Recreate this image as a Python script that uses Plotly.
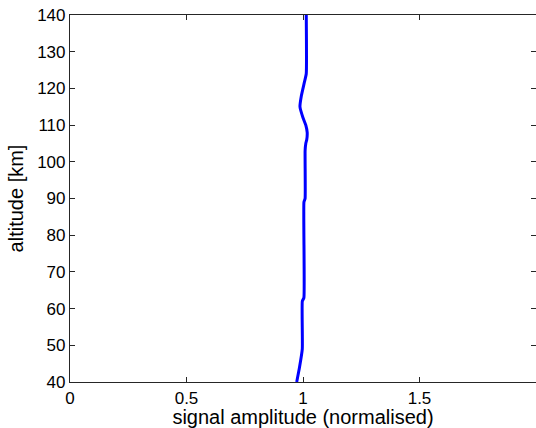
import plotly.graph_objects as go

altitude = [40, 44, 49, 62, 63, 89, 90, 103, 105, 106, 108, 110, 112, 115, 118, 121.7, 124, 140]
amplitude = [0.973, 0.985, 0.997, 0.997, 1.004, 1.004, 1.009, 1.009, 1.012, 1.016, 1.018, 1.012, 1.0, 0.987, 0.993, 1.006, 1.014, 1.014]

x_ticks = [0, 0.5, 1, 1.5, 2]
x_tick_text = ["0", "0.5", "1", "1.5", "2"]
y_ticks = [40, 50, 60, 70, 80, 90, 100, 110, 120, 130, 140]

fig = go.Figure()
fig.add_trace(go.Scatter(x=amplitude, y=altitude, mode="lines",
                         line=dict(color="#0000FF", width=3, shape="spline", smoothing=0.4),
                         showlegend=False))

axis_common = dict(showline=True, linecolor="#262626", linewidth=1.2, mirror="allticks",
                   ticks="inside", ticklen=5, tickcolor="#262626", showgrid=False,
                   zeroline=False, automargin=False,
                   tickfont=dict(family="Liberation Sans, Arial", size=17, color="#000"))

fig.update_layout(
    width=536, height=428,
    margin=dict(l=70, r=0, t=15, b=46),
    plot_bgcolor="white", paper_bgcolor="white",
    font=dict(family="Liberation Sans, Arial", size=20, color="#000"),
    xaxis=dict(range=[0, 2], tickvals=x_ticks, ticktext=x_tick_text,
               title=dict(text="signal amplitude (normalised)", standoff=0,
                          font=dict(size=20)), **axis_common),
    yaxis=dict(range=[40, 140], tickvals=y_ticks,
               title=dict(text="altitude [km]", standoff=8, font=dict(size=20)), **axis_common),
)

fig.write_html("out.html", config={"displayModeBar": False},
               post_script="document.body.style.margin='0';document.body.style.overflow='hidden';")
